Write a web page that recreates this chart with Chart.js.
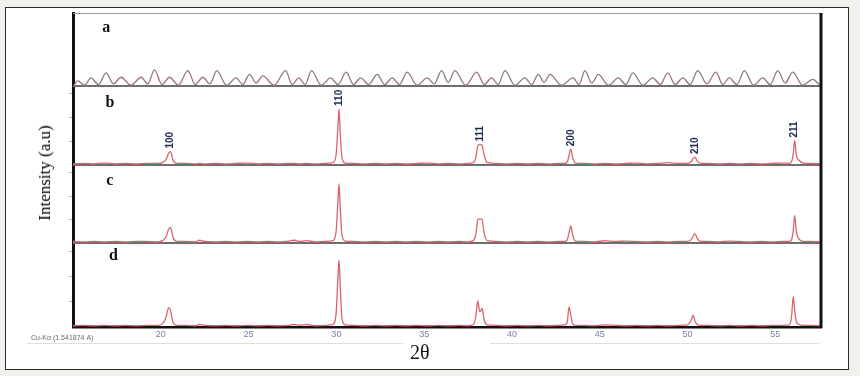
<!DOCTYPE html>
<html>
<head>
<meta charset="utf-8">
<script src="https://cdn.jsdelivr.net/npm/chart.js@4.4.1/dist/chart.umd.min.js"></script>
<style>
  body{margin:0;background:#f1f1ec;width:860px;height:376px;overflow:hidden;position:relative;font-family:"Liberation Serif",serif}
  #frame{position:absolute;left:5px;top:7px;width:844px;height:363px;box-sizing:border-box;border:1px solid #2b2b2b;background:#fff}
  #xrd{position:absolute;left:0;top:0}
  .rule{position:absolute;height:1px;background:#dedede}
  #ytitle{position:absolute;left:45px;top:173px;transform:translate(-50%,-50%) rotate(-90deg);font-size:17px;font-weight:normal;color:#000;white-space:nowrap}
  #xtitle{position:absolute;left:410px;top:341px;font-size:20px;color:#111}
  #source{position:absolute;left:31px;top:334px;font:7px "Liberation Sans",sans-serif;color:#6a6a6a;white-space:nowrap}
</style>
</head>
<body>
<div id="frame"></div>
<canvas id="xrd" width="860" height="376"></canvas>
<div class="rule" style="left:27px;top:343px;width:376px"></div>
<div class="rule" style="left:490px;top:343px;width:330px"></div>
<div id="source">Cu-Kα (1.541874 A)</div>
<div id="xtitle">2θ</div>
<div id="ytitle">Intensity (a.u)</div>
<script>
// panel a: broad wavy trace (peaks and troughs)
const angleA = [15.05, 15.27, 15.65, 16.03, 16.45, 16.88, 17.3, 17.74, 18.3, 18.88, 19.26, 19.64, 20.07, 20.5, 21.0, 21.54, 21.96, 22.39, 22.8, 23.19,
  23.75, 24.29, 24.67, 25.05, 25.43, 25.81, 26.45, 27.11, 27.48, 27.86, 28.22, 28.59, 29.13, 29.67, 30.1, 30.56, 30.97, 31.38, 31.85, 32.32,
  32.75, 33.18, 33.6, 34.03, 34.6, 35.17, 35.58, 35.99, 36.37, 36.75, 37.37, 37.99, 38.42, 38.84, 39.22, 39.6, 40.17, 40.74, 41.12, 41.5,
  41.83, 42.17, 42.82, 43.48, 43.82, 44.16, 44.54, 44.92, 45.5, 46.06, 46.48, 46.89, 47.45, 48.02, 48.45, 48.87, 49.3, 49.73, 50.15, 50.58,
  51.1, 51.62, 52.0, 52.38, 52.81, 53.24, 53.76, 54.28, 54.71, 55.14, 55.56, 55.99, 56.56, 57.13, 57.5];
const intensityA = [1, 7, 1, 11, 2, 18, 3, 12, 1, 12, 3, 22, 2, 12, 1, 21, 2, 12, 3, 21,
  1, 11, 2, 16, 4, 14, 1, 21, 2, 11, 2, 21, 1, 11, 2, 19, 2, 11, 2, 16,
  2, 11, 2, 19, 1, 11, 3, 21, 5, 21, 1, 19, 2, 11, 2, 21, 1, 11, 2, 16,
  5, 16, 1, 11, 2, 21, 4, 16, 1, 11, 2, 18, 1, 11, 2, 18, 2, 11, 2, 21,
  3, 19, 2, 11, 2, 21, 1, 11, 2, 21, 4, 19, 1, 9, 2];

// panels b, c, d share one 2θ grid
const angles = [15.0, 15.6, 16.2, 16.8, 17.4, 18.0, 18.6, 19.2, 19.8,
  20.1, 20.3, 20.45, 20.55, 20.7, 20.9,
  21.4, 22.0, 22.2, 22.5, 23.1, 23.7, 24.3, 24.9, 25.5, 26.1, 26.7, 27.3, 27.6, 27.9, 28.3, 28.8, 29.4,
  29.8, 29.98, 30.08, 30.15, 30.22, 30.32, 30.5,
  31.0, 31.6, 32.2, 32.8, 33.4, 34.0, 34.6, 35.2, 35.8, 36.4, 37.0, 37.5,
  37.8, 37.95, 38.05, 38.17, 38.3, 38.42, 38.6,
  39.1, 39.7, 40.3, 40.9, 41.5, 42.1, 42.7, 43.0,
  43.15, 43.25, 43.35, 43.45, 43.6,
  44.1, 44.7, 45.3, 45.9, 46.5, 47.1, 47.7, 48.3, 48.9, 49.5, 50.0,
  50.2, 50.32, 50.42, 50.55, 50.7,
  51.2, 51.8, 52.4, 53.0, 53.6, 54.2, 54.8, 55.4, 55.8,
  55.92, 56.02, 56.1, 56.2, 56.35, 56.6,
  57.0, 57.6];
const intensityB = [1.5, 2, 1.5, 2.5, 1.5, 2, 1.5, 2, 2,
  3, 7, 15, 17, 6, 2,
  2, 1.5, 2, 1.5, 2, 1.5, 2, 2.5, 1.5, 2, 1.5, 2, 2, 1.5, 2, 1.5, 2,
  3, 12, 45, 71, 40, 9, 2.5,
  2, 1.5, 2, 1.5, 2, 1.5, 2, 2.5, 1.5, 2, 1.5, 2,
  3, 10, 24, 26, 25, 12, 3,
  2, 1.5, 2, 1.5, 2, 1.5, 2, 2,
  4, 12, 20, 10, 2.5,
  2, 1.5, 2, 1.5, 2, 2.5, 1.5, 2, 3, 2, 2,
  4, 8, 10, 5, 2.5,
  2, 1.5, 2, 1.5, 2, 1.5, 2, 2.5, 2,
  4, 14, 31, 12, 6, 2.5,
  2, 1.5];
const intensityC = [2, 1.5, 2, 1.5, 2, 1.5, 2, 2, 1.5,
  3, 8, 18, 20, 7, 2,
  2, 1.5, 3.5, 2, 1.5, 2, 1.5, 2, 1.5, 2, 1.5, 2.5, 3.5, 2, 3, 1.5, 2,
  3, 14, 50, 76, 45, 10, 2.5,
  2, 1.5, 2, 1.5, 2, 1.5, 2, 1.5, 2, 1.5, 2, 1.5,
  3, 12, 30, 31, 30, 12, 3,
  2, 1.5, 2, 1.5, 2, 1.5, 2, 2,
  4, 13, 22, 11, 2.5,
  2, 1.5, 3, 2, 2.5, 2, 1.5, 2, 1.5, 2, 2,
  4, 9, 12, 6, 2.5,
  2, 1.5, 2.5, 2, 1.5, 2, 1.5, 2, 2,
  4, 16, 35, 14, 5, 2,
  2, 1.5];
const intensityD = [1.5, 2, 1.5, 2, 1.5, 2, 1.5, 2, 2,
  4, 12, 23, 20, 5, 2,
  2, 1.5, 3, 2, 1.5, 2, 1.5, 2, 1.5, 2, 1.5, 2, 3, 2, 3, 1.5, 2,
  3, 15, 55, 80, 48, 10, 2.5,
  2, 1.5, 2, 1.5, 2, 1.5, 2, 1.5, 2, 1.5, 2, 1.5,
  3, 14, 31, 18, 22, 8, 2.5,
  2, 1.5, 2, 1.5, 2, 1.5, 2, 2.5,
  6, 24, 14, 4, 2,
  2, 1.5, 2.5, 2, 1.5, 2, 1.5, 2, 1.5, 2, 2.5,
  8, 14, 7, 3, 2,
  2, 1.5, 2, 1.5, 2, 1.5, 2, 2, 2.5,
  12, 36, 20, 6, 3, 2,
  2, 1.5];

const xTicks = [20, 25, 30, 35, 40, 45, 50, 55];
const yTicks = [30, 60, 90];
const panelNames = ['a', 'b', 'c', 'd'];
const hklLabels = ['100', '110', '111', '200', '210', '211'];
const hklAngles = [20.55, 30.15, 38.17, 43.35, 50.42, 56.1];
const hklTops = [17, 71, 26, 20, 10, 31];

const pairs = (xs, ys) => xs.map((x, i) => ({x, y: ys[i]}));

function panelAxis(weight, showTicks){
  return {
    type: 'linear', position: 'left', stack: 'xrd', stackWeight: weight,
    min: 0, max: 100,
    border: {color: '#111', width: 3},
    grid: {drawOnChartArea: false, drawTicks: showTicks, tickLength: 4, color: '#9fb4d0'},
    ticks: {display: showTicks, callback: () => '', padding: 0},
    afterBuildTicks: s => { s.ticks = yTicks.map(v => ({value: v})); },
    afterFit: s => { s.width = 10; }
  };
}

// separators, frame, panel letters and hkl tags
const panelDecor = {
  id: 'panelDecor',
  beforeDatasetsDraw(chart){
    const {ctx, chartArea: ca, scales} = chart;
    ctx.save();
    ctx.strokeStyle = '#6e6e6e'; ctx.lineWidth = 2;
    ['yA', 'yB', 'yC'].forEach(id => {
      const y = scales[id].bottom;
      ctx.beginPath(); ctx.moveTo(ca.left, y); ctx.lineTo(ca.right, y); ctx.stroke();
    });
    ctx.strokeStyle = '#999'; ctx.lineWidth = 1;
    ctx.beginPath(); ctx.moveTo(ca.left, ca.top + 0.5); ctx.lineTo(ca.right, ca.top + 0.5); ctx.stroke();
    ctx.restore();
  },
  afterDatasetsDraw(chart){
    const {ctx, chartArea: ca, scales} = chart;
    const x = scales.x;
    ctx.save();
    ctx.strokeStyle = '#111'; ctx.lineWidth = 3;
    ctx.beginPath(); ctx.moveTo(ca.right, ca.top); ctx.lineTo(ca.right, ca.bottom + 1); ctx.stroke();

    ctx.fillStyle = '#111';
    ctx.font = 'bold 16px "Liberation Serif", serif';
    ctx.textAlign = 'center'; ctx.textBaseline = 'alphabetic';
    const letterX = [16.9, 17.1, 17.1, 17.3];
    const letterY = [74, 73, 74, 80];
    ['yA', 'yB', 'yC', 'yD'].forEach((id, i) => {
      ctx.fillText(panelNames[i], x.getPixelForValue(letterX[i]), scales[id].getPixelForValue(letterY[i]));
    });

    ctx.fillStyle = '#1d2a50';
    ctx.font = 'bold 10px "Liberation Sans", sans-serif';
    ctx.textAlign = 'left'; ctx.textBaseline = 'middle';
    hklLabels.forEach((lab, i) => {
      ctx.save();
      ctx.translate(x.getPixelForValue(hklAngles[i]), scales.yB.getPixelForValue(hklTops[i]) - 3);
      ctx.rotate(-Math.PI / 2);
      ctx.fillText(lab, 0, 0);
      ctx.restore();
    });
    ctx.restore();
  }
};

const peakStyle = {borderColor: '#d9656c', borderWidth: 1.3, pointRadius: 0, cubicInterpolationMode: 'monotone'};

new Chart(document.getElementById('xrd'), {
  type: 'line',
  data: {
    datasets: [
      {label: 'a', data: pairs(angleA, intensityA), yAxisID: 'yA', borderColor: '#957677', borderWidth: 1.3, pointRadius: 0, cubicInterpolationMode: 'monotone'},
      {label: 'b', data: pairs(angles, intensityB), yAxisID: 'yB', ...peakStyle},
      {label: 'c', data: pairs(angles, intensityC), yAxisID: 'yC', ...peakStyle},
      {label: 'd', data: pairs(angles, intensityD), yAxisID: 'yD', ...peakStyle}
    ]
  },
  options: {
    responsive: false,
    animation: false,
    layout: {padding: {left: 63, top: 13, right: 39, bottom: 9}},
    plugins: {legend: {display: false}, tooltip: {enabled: false}},
    scales: {
      x: {
        type: 'linear', min: 15, max: 57.6,
        border: {color: '#111', width: 2.5},
        grid: {drawOnChartArea: false, drawTicks: false},
        ticks: {color: '#6f84a6', font: {size: 9, family: '"Liberation Sans", sans-serif'}, padding: 2, maxRotation: 0, autoSkip: false},
        afterBuildTicks: s => { s.ticks = xTicks.map(v => ({value: v})); },
        afterFit: s => { s.height = 40; }
      },
      yD: panelAxis(84, true),
      yC: panelAxis(78, true),
      yB: panelAxis(79, true),
      yA: panelAxis(73, false)
    }
  },
  plugins: [panelDecor]
});
</script>
</body>
</html>
